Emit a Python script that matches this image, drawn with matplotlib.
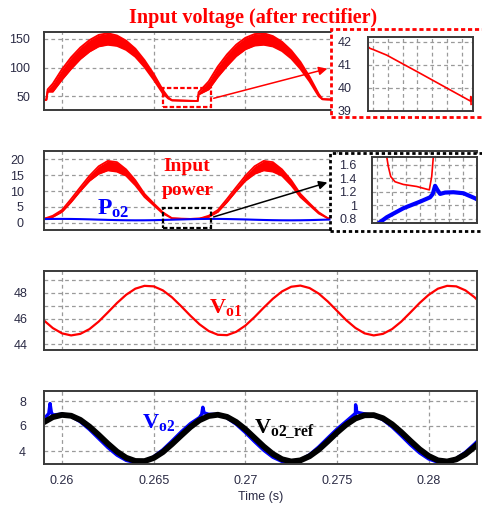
import numpy as np
import matplotlib
matplotlib.use("Agg")
import matplotlib.pyplot as plt
from matplotlib.patches import Rectangle, FancyArrowPatch

# ---------------- data ----------------
time_s = 0.259 + 0.0005 * np.arange(49)

vin_t = [0.2590, 0.25915, 0.25922, 0.2595, 0.2600, 0.2605, 0.2610, 0.2615, 0.2620, 0.2625,
         0.2630, 0.2635, 0.2640, 0.2645, 0.2650, 0.2655, 0.2658, 0.2660, 0.2665, 0.2670,
         0.2674, 0.26745, 0.2680, 0.2685, 0.2690, 0.2695, 0.2700, 0.2705, 0.2710, 0.2715,
         0.2720, 0.2725, 0.2730, 0.2735, 0.2740, 0.2742, 0.2745, 0.2750]
vin_upper = [43, 44, 62, 72, 97, 118, 135, 148, 157, 160,
             156, 147, 133, 113, 89, 61, 48, 43, 42.5, 42,
             41.8, 57, 76, 102, 123, 140, 152, 158.5, 160, 155,
             145, 130, 110, 84, 54, 45, 44.5, 44]
vin_lower = [43, 44, 58, 58, 79, 98, 115, 128, 137, 140,
             138, 131, 119, 101, 79, 55, 46, 43, 42.5, 42,
             41.8, 53, 62, 84, 103, 120, 132, 138.5, 140, 137,
             129, 116, 98, 76, 50, 45, 44.5, 44]

pin_upper = [1.2, 2.2, 4.0, 7.5, 11.2, 14.8, 17.8, 19.5, 19.1, 16.8,
             13.4, 9.1, 6.1, 3.3, 1.4, 1.25, 1.2, 1.3, 2.2, 4.0,
             7.5, 11.2, 14.8, 17.8, 19.5, 19.1, 16.8, 13.4, 9.1, 6.1,
             3.3, 1.4, 1.25]
pin_lower = [1.2, 1.8, 3.4, 6.5, 10.0, 13.2, 15.4, 16.5, 16.1, 14.8,
             11.8, 8.1, 5.5, 2.9, 1.4, 1.25, 1.2, 1.3, 1.8, 3.4,
             6.5, 10.0, 13.2, 15.4, 16.5, 16.1, 14.8, 11.8, 8.1, 5.5,
             2.9, 1.4, 1.25]
po2 = [1.15, 1.19, 1.20, 1.18, 1.13, 1.06, 0.97, 0.89, 0.82, 0.77,
       0.75, 0.76, 0.80, 0.87, 0.95, 1.03, 1.11, 1.17, 1.20, 1.20,
       1.16, 1.10, 1.03, 0.94, 0.86, 0.80, 0.76, 0.75, 0.77, 0.82,
       0.90, 0.98, 1.06, 1.13, 1.18, 1.20, 1.19, 1.15, 1.08, 1.00,
       0.92, 0.84, 0.78, 0.75, 0.75, 0.79, 0.85, 0.92, 1.01]

vo1 = [45.87, 45.26, 44.85, 44.69, 44.81, 45.18, 45.76, 46.47, 47.20, 47.84,
       48.31, 48.53, 48.49, 48.18, 47.64, 46.95, 46.22, 45.55, 45.03, 44.74,
       44.71, 44.97, 45.45, 46.11, 46.84, 47.53, 48.10, 48.46, 48.55, 48.36,
       47.93, 47.31, 46.59, 45.87, 45.27, 44.85, 44.69, 44.81, 45.18, 45.76,
       46.47, 47.20, 47.84, 48.31, 48.53, 48.49, 48.18, 47.64, 46.95]

vo2_ref = [6.29, 6.71, 6.89, 6.82, 6.49, 5.95, 5.29, 4.59, 3.95, 3.46,
           3.20, 3.19, 3.44, 3.91, 4.55, 5.24, 5.91, 6.46, 6.80, 6.90,
           6.73, 6.32, 5.74, 5.05, 4.36, 3.76, 3.34, 3.16, 3.25, 3.58,
           4.11, 4.78, 5.48, 6.11, 6.60, 6.86, 6.87, 6.62, 6.14, 5.51,
           4.81, 4.14, 3.60, 3.25, 3.16, 3.33, 3.74, 4.33, 5.02]
vo2 = [6.54, 6.88, 6.96, 6.77, 6.34, 5.72, 5.00, 4.28, 3.67, 3.25,
       3.07, 3.18, 3.54, 4.10, 4.80, 5.53, 6.19, 6.68, 6.94, 6.93,
       6.65, 6.14, 5.48, 4.75, 4.06, 3.50, 3.16, 3.08, 3.27, 3.70,
       4.33, 5.05, 5.76, 6.38, 6.80, 6.97, 6.86, 6.50, 5.93, 5.23,
       4.50, 3.85, 3.36, 3.10, 3.11, 3.39, 3.90, 4.57, 5.30]
vo2_spike_t = [0.25928, 0.25935, 0.25942, 0.26762, 0.26768, 0.26775, 0.27595, 0.27601, 0.27608]
vo2_spike_v = [7.0, 7.8, 7.1, 6.95, 7.5, 7.05, 6.95, 7.7, 7.1]

# zoomed insets (arbitrary zoom-time units)
zoom_vin_x = [-0.36, -0.35, -0.22, 0.0, 0.91, 3.18, 5.22, 6.61, 6.63, 6.65]
zoom_vin_v = [42.15, 41.78, 41.71, 41.66, 41.42, 40.63, 39.91, 39.42, 39.62, 39.28]
zoom_pin_x = [0.58, 0.649, 0.761, 0.929, 1.229, 1.81, 2.747, 3.446, 3.628, 3.796, 3.908, 3.95]
zoom_pin_v = [1.85, 1.72, 1.575, 1.427, 1.35, 1.31, 1.28, 1.24, 1.23, 1.43, 1.72, 1.85]
zoom_po2_x = [0.1, 0.649, 1.81, 2.98, 3.68, 3.87, 4.03, 4.19, 4.38, 4.73, 5.31, 6.01, 6.82, 6.96]
zoom_po2_v = [0.74, 0.825, 0.958, 1.056, 1.12, 1.17, 1.29, 1.23, 1.17, 1.19, 1.195, 1.18, 1.106, 1.09]

time_ticks = [0.26, 0.265, 0.27, 0.275, 0.28]
time_labels = ['0.26', '0.265', '0.27', '0.275', '0.28']

# ---------------- style ----------------
plt.rcParams['font.family'] = ['Liberation Sans', 'DejaVu Sans']
plt.rcParams['mathtext.fontset'] = 'custom'
plt.rcParams['mathtext.bf'] = 'Liberation Serif:bold'
plt.rcParams['mathtext.rm'] = 'Liberation Serif:bold'
plt.rcParams['mathtext.it'] = 'Liberation Serif:bold'

W, H = 482, 508
fig = plt.figure(figsize=(W / 100, H / 100), dpi=100)

RED = '#ff0000'
BLUE = '#0000ff'
FRAME = '#3a3a3a'
GRID = '#9a9a9a'
TICKC = '#2b2b45'


def px_axes(x0, y0, x1, y1):
    return fig.add_axes([x0 / W, 1 - y1 / H, (x1 - x0) / W, (y1 - y0) / H])


def fx(x):
    return x / W


def fy(y):
    return 1 - y / H


def style(ax, ypad):
    for s in ax.spines.values():
        s.set_color(FRAME)
        s.set_linewidth(1.4)
    ax.tick_params(which='both', length=0, labelsize=9, colors=TICKC)
    ax.tick_params(axis='y', pad=ypad)
    ax.tick_params(axis='x', pad=8)
    ax.grid(True, which='both', color=GRID, linestyle=(0, (3, 2.5)), linewidth=0.9)
    ax.set_axisbelow(True)


XL = (0.25902, 0.28263)

# Panel 1: input voltage
ax1 = px_axes(44, 32, 477, 110)
ax1.fill_between(vin_t, vin_lower, vin_upper, color=RED, lw=0)
ax1.plot(vin_t, vin_upper, color=RED, lw=1.4)
ax1.plot(vin_t, vin_lower, color=RED, lw=1.4)
ax1.set_xlim(*XL)
ax1.set_ylim(26.1, 162.2)
ax1.set_yticks([50, 100, 150])
ax1.set_xticks(time_ticks)
ax1.set_xticklabels([])
style(ax1, 10)

# Panel 2: input power and Po2
ax2 = px_axes(44, 151, 477, 230)
ax2.fill_between(time_s[:33], pin_lower, pin_upper, color=RED, lw=0)
ax2.plot(time_s[:33], pin_upper, color=RED, lw=1.3)
ax2.plot(time_s[:33], pin_lower, color=RED, lw=1.3)
ax2.plot(time_s, po2, color=BLUE, lw=1.5)
ax2.set_xlim(*XL)
ax2.set_ylim(-2.3, 22.62)
ax2.set_yticks([0, 5, 10, 15, 20])
ax2.set_xticks(time_ticks)
ax2.set_xticklabels([])
style(ax2, 14.5)

# Panel 3: Vo1
ax3 = px_axes(44, 271, 477, 350)
ax3.plot(time_s, vo1, color=RED, lw=1.6)
ax3.set_xlim(*XL)
ax3.set_ylim(43.56, 49.68)
ax3.set_yticks([44, 46, 48])
ax3.set_yticks([45, 47, 49], minor=True)
ax3.set_xticks(time_ticks)
ax3.set_xticklabels([])
style(ax3, 11.5)

# Panel 4: Vo2 and reference
ax4 = px_axes(44, 391, 477, 464)
bt = np.concatenate([time_s, vo2_spike_t])
bv = np.concatenate([vo2, vo2_spike_v])
order = np.argsort(bt)
ax4.plot(bt[order], bv[order], color=BLUE, lw=2.4)
ax4.plot(time_s, vo2_ref, color='black', lw=4.2)
ax4.set_xlim(*XL)
ax4.set_ylim(2.96, 8.8)
ax4.set_yticks([4, 6, 8])
ax4.set_xticks(time_ticks)
ax4.set_xticklabels(time_labels)
style(ax4, 13)

# ---------------- zoom frames (white covers) ----------------
frame1 = Rectangle((fx(331), fy(117)), 0.4, 88 / H, transform=fig.transFigure,
                   facecolor='white', edgecolor=RED, lw=2.0, linestyle=(0, (1.5, 1)), zorder=2)
fig.add_artist(frame1)
frame2 = Rectangle((fx(330), fy(231)), 0.4, 78.3 / H, transform=fig.transFigure,
                   facecolor='white', edgecolor='black', lw=2.0, linestyle=(0, (1.2, 1)), zorder=2)
fig.add_artist(frame2)

# inset 1
axi1 = px_axes(367.7, 36.7, 472.7, 111)
axi1.set_zorder(3)
axi1.plot(zoom_vin_x, zoom_vin_v, color=RED, lw=1.2)
axi1.set_xlim(-0.38, 6.76)
axi1.set_ylim(38.99, 42.22)
axi1.set_xticks(range(7))
axi1.set_xticklabels([])
axi1.set_yticks([39, 40, 41, 42])
style(axi1, 11.5)

# inset 2
axi2 = px_axes(371.7, 156.7, 477, 223.3)
axi2.set_zorder(3)
axi2.plot(zoom_pin_x, zoom_pin_v, color=RED, lw=1.2)
axi2.plot(zoom_po2_x, zoom_po2_v, color=BLUE, lw=3.0)
axi2.set_xlim(-0.4, 6.96)
axi2.set_ylim(0.736, 1.72)
axi2.set_xticks(range(7))
axi2.set_xticklabels([])
axi2.set_yticks([0.8, 1.0, 1.2, 1.4, 1.6])
axi2.set_yticklabels(['0.8', '1', '1.2', '1.4', '1.6'])
style(axi2, 10.8)

# small dashed boxes
box1 = Rectangle((fx(163), fy(107)), 48 / W, 19 / H, transform=fig.transFigure,
                 fill=False, edgecolor=RED, lw=1.6, linestyle=(0, (2, 1)), zorder=4)
fig.add_artist(box1)
box2 = Rectangle((fx(163), fy(228)), 48 / W, 20 / H, transform=fig.transFigure,
                 fill=False, edgecolor='black', lw=1.6, linestyle=(0, (2, 1)), zorder=4)
fig.add_artist(box2)

# arrows
arr1 = FancyArrowPatch((fx(211), fy(99)), (fx(330), fy(68)), transform=fig.transFigure,
                       arrowstyle='-|>,head_length=5,head_width=2.5', color=RED, lw=1.1, zorder=5)
fig.add_artist(arr1)
arr2 = FancyArrowPatch((fx(211), fy(217.7)), (fx(330), fy(181.7)), transform=fig.transFigure,
                       arrowstyle='-|>,head_length=5,head_width=2.5', color='black', lw=1.1, zorder=5)
fig.add_artist(arr2)

# ---------------- texts ----------------
serif = ['Liberation Serif', 'DejaVu Serif']
fig.text(fx(253), fy(22.5), 'Input voltage (after rectifier)', ha='center', va='baseline',
         color=RED, fontsize=14.5, fontweight='bold', family=serif, zorder=6)
fig.text(fx(187), fy(170.5), 'Input', ha='center', va='baseline',
         color=RED, fontsize=14, fontweight='bold', family=serif, zorder=6)
fig.text(fx(187.5), fy(195), 'power', ha='center', va='baseline',
         color=RED, fontsize=14, fontweight='bold', family=serif, zorder=6)
fig.text(fx(96.7), fy(214.5), r'$\mathbf{P}_{\mathbf{o2}}$', ha='left', va='baseline',
         color=BLUE, fontsize=17, zorder=6)
fig.text(fx(209), fy(313.3), r'$\mathbf{V}_{\mathbf{o1}}$', ha='left', va='baseline',
         color=RED, fontsize=16, zorder=6)
fig.text(fx(142.5), fy(428.3), r'$\mathbf{V}_{\mathbf{o2}}$', ha='left', va='baseline',
         color=BLUE, fontsize=16, zorder=6)
fig.text(fx(254.5), fy(433.3), r'$\mathbf{V}_{\mathbf{o2\_ref}}$', ha='left', va='baseline',
         color='black', fontsize=16, zorder=6)
fig.text(fx(261), fy(497), 'Time (s)', ha='center', va='center', color=TICKC, fontsize=9)

fig.savefig('out.png', dpi=100)
